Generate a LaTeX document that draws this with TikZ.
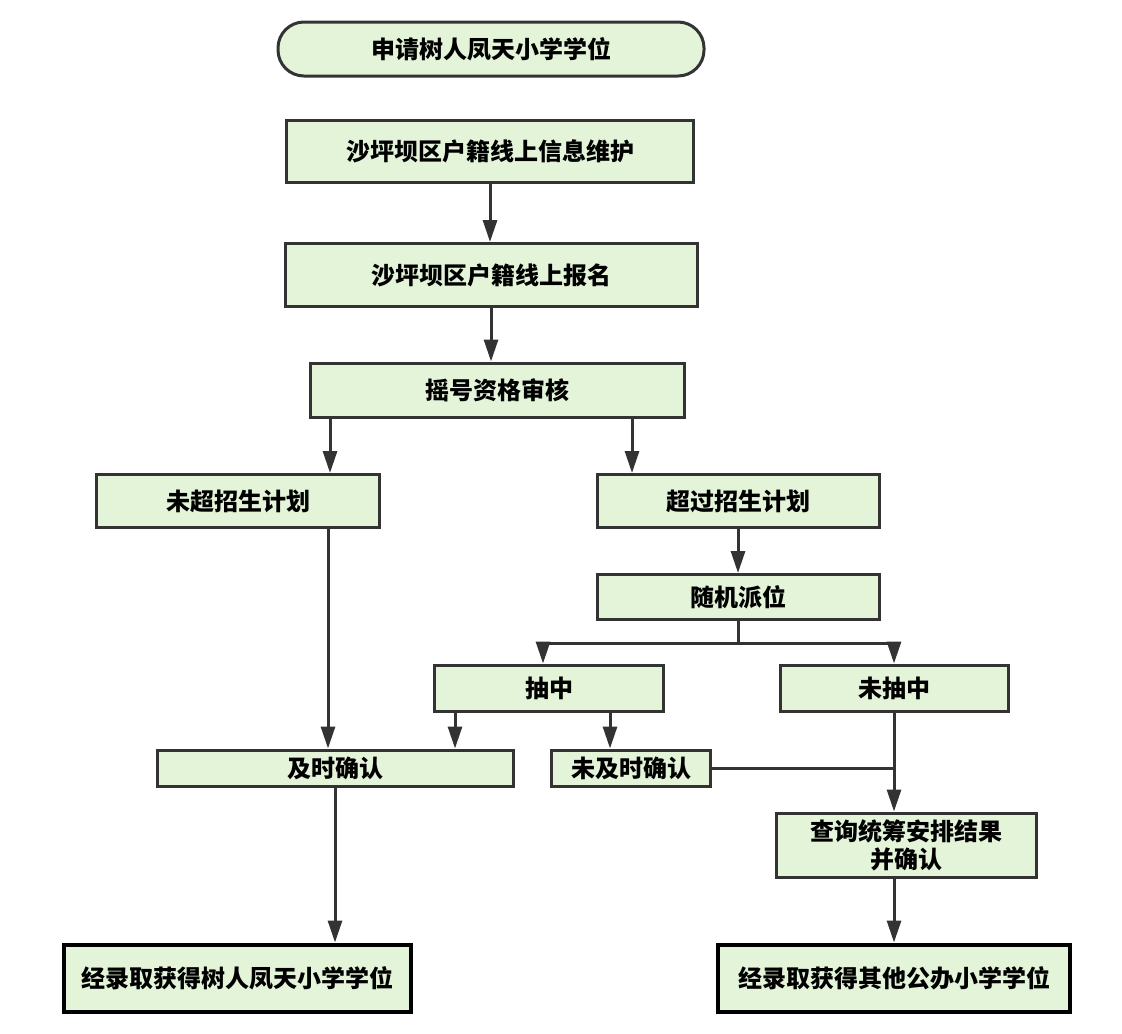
\documentclass[tikz,border=0pt]{standalone}
\usepackage{fontspec}
\newfontfamily\cjk{Noto Sans CJK SC}
\usetikzlibrary{arrows.meta}
\definecolor{boxfill}{HTML}{E3F4D9}
\definecolor{boxline}{HTML}{333333}
\tikzset{
    box/.style={draw=boxline, fill=boxfill, line width=1.5pt, inner sep=0pt,
        font=\cjk\bfseries\fontsize{12pt}{14pt}\selectfont, align=center},
    endbox/.style={box, draw=black, line width=2pt},
    flow/.style={draw=boxline, line width=1.5pt}
}
\begin{document}
\begin{tikzpicture}[x=0.5pt, y=-0.5pt, >={Triangle[length=11pt,width=7pt]}]
\useasboundingbox (0,0) rectangle (1122,1033);
\node[box, rounded corners=13pt, minimum width=213pt, minimum height=27pt] (apply) at (491,49) {申请树人凤天小学学位};
\node[box, minimum width=203.5pt, minimum height=31pt] (info) at (490,151) {沙坪坝区户籍线上信息维护};
\node[box, minimum width=206pt, minimum height=31.5pt] (reg) at (491,275) {沙坪坝区户籍线上报名};
\node[box, minimum width=187pt, minimum height=27pt] (check) at (497,390) {摇号资格审核};
\node[box, minimum width=141.5pt, minimum height=26.5pt] (under) at (238,501) {未超招生计划};
\node[box, minimum width=141pt, minimum height=26.5pt] (over) at (738,501) {超过招生计划};
\node[box, minimum width=141pt, minimum height=22.5pt] (lot) at (738,597) {随机派位};
\node[box, minimum width=114.5pt, minimum height=23pt] (hit) at (549,688) {抽中};
\node[box, minimum width=114pt, minimum height=23pt] (miss) at (894,688) {未抽中};
\node[box, minimum width=178pt, minimum height=18pt] (ontime) at (335,768) {及时确认};
\node[box, minimum width=79.5pt, minimum height=18pt] (late) at (631,768) {未及时确认};
\node[box, minimum width=130pt, minimum height=32pt] (query) at (906,845) {查询统筹安排结果\\并确认};
\node[endbox, minimum width=173.5pt, minimum height=33.5pt] (okA) at (237,978) {经录取获得树人凤天小学学位};
\node[endbox, minimum width=176pt, minimum height=33.5pt] (okB) at (894,978) {经录取获得其他公办小学学位};

\draw[flow, ->] (info.south) -- (info.south |- reg.north);
\draw[flow, ->] (reg.south) -- (reg.south |- check.north);
\draw[flow, ->] ([xshift=-83.5pt]check.south) -- ([xshift=-83.5pt]check.south |- under.north);
\draw[flow, ->] ([xshift=67.5pt]check.south) -- ([xshift=67.5pt]check.south |- over.north);
\draw[flow, ->] (over.south) -- (lot.north);
\draw[flow, ->] (lot.south) -- ++(0,22) -| ([xshift=-3pt]hit.north);
\draw[flow, ->] (lot.south) -- ++(0,22) -| (miss.north);
\draw[flow, ->] ([xshift=45pt]under.south) -- ([xshift=45pt]under.south |- ontime.north);
\draw[flow, ->] ([xshift=-47pt]hit.south) -- ([xshift=-47pt]hit.south |- ontime.north);
\draw[flow, ->] ([xshift=30.5pt]hit.south) -- ([xshift=30.5pt]hit.south |- late.north);
\draw[flow, ->] (miss.south) -- (miss.south |- query.north);
\draw[flow] (late.east) -- (late.east -| miss.south);
\draw[flow, ->] (ontime.south) -- (ontime.south |- okA.north);
\draw[flow, ->] (miss.south |- query.south) -- (miss.south |- okB.north);
\end{tikzpicture}
\end{document}
